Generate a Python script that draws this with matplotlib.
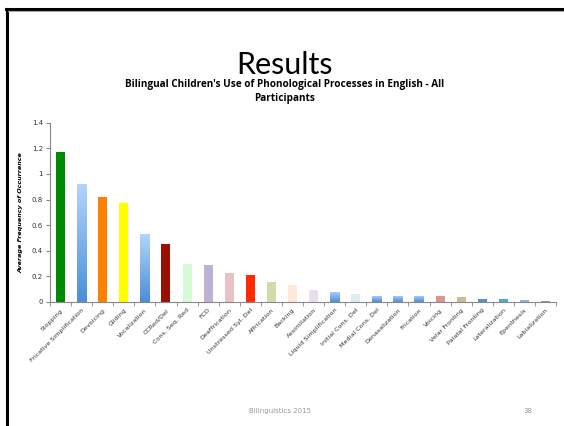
import matplotlib.pyplot as plt
import matplotlib.colors as mcolors
import numpy as np
from matplotlib.lines import Line2D

processes = ["Stopping", "Fricative Simplification", "Devoicing", "Gliding", "Vocalization",
             "CCRed/Del", "Cons. Seq. Red", "FCD", "Deaffrication", "Unstressed Syl. Del",
             "Affrication", "Backing", "Assimilation", "Liquid Simplification", "Initial Cons. Del",
             "Medial Cons. Del", "Denasalization", "Frication", "Voicing", "Velar Fronting",
             "Palatal Fronting", "Lateralization", "Epenthesis", "Labialization"]
frequency = [1.17, 0.92, 0.82, 0.77, 0.53, 0.45, 0.30, 0.29, 0.23, 0.21, 0.16, 0.13,
             0.09, 0.08, 0.06, 0.05, 0.05, 0.05, 0.045, 0.04, 0.02, 0.02, 0.012, 0.005]
# None -> blue gradient fill (like the office chart)
bar_colors = ["#008a00", None, "#ff7f00", "#ffff00", None, "#990f00", "#d6fbd6", "#bfb0d6",
              "#e8c3c3", "#ff2a00", "#d1dbab", "#fde9d9", "#e6e0ec", None, "#dcedf3",
              None, None, None, "#d99694", "#c4bd97", "#558ed5", "#4bacc6", "#8db3e2", "#8096b0"]

fig = plt.figure(figsize=(5.64, 4.26), dpi=100)
ax = fig.add_axes([50 / 564, 1 - 302 / 426, 506 / 564, 179.3 / 426])

x = np.arange(len(processes))
width = 0.43
grad = mcolors.LinearSegmentedColormap.from_list("bl", ["#4a8fd8", "#b3d3fb"])
bars = ax.bar(x, frequency, width=width, zorder=2)
for b, c in zip(bars, bar_colors):
    if c is None:
        b.set_facecolor("none")
        img = ax.imshow(np.linspace(0, 1, 50).reshape(-1, 1), cmap=grad, aspect="auto",
                        origin="lower", extent=[b.get_x(), b.get_x() + width, 0, b.get_height()],
                        zorder=2)
        img.set_clip_path(b)
    else:
        b.set_facecolor(c)

ax.set_xlim(-0.5, len(processes) - 0.5)
ax.set_ylim(0, 1.4)
ax.set_yticks(np.arange(0, 1.41, 0.2))
ax.set_yticklabels(["0", "0.2", "0.4", "0.6", "0.8", "1", "1.2", "1.4"])
ax.set_xticks(x)
ax.set_xticklabels(processes, rotation=45, ha="right", rotation_mode="anchor", fontsize=4.6,
                   color="#333333")
ax.set_xticks(np.arange(-0.5, len(processes)), minor=True)
ax.tick_params(axis="x", which="major", length=0, pad=4)
ax.tick_params(axis="x", which="minor", length=3, color="#888888", direction="out")
ax.tick_params(axis="y", length=3, color="#888888", labelsize=5, labelcolor="#333333", pad=2)
for s in ["top", "right"]:
    ax.spines[s].set_visible(False)
for s in ["left", "bottom"]:
    ax.spines[s].set_color("#888888")
    ax.spines[s].set_linewidth(0.8)
ax.set_ylabel("Average Frequency of Occurrence", fontsize=4.6, fontweight="bold",
              fontstyle="italic", labelpad=6)

fig.text(0.505, 1 - 65 / 426, "Results", ha="center", va="center", fontsize=22, family="Lato")
fig.text(0.505, 1 - 85 / 426, "Bilingual Children's Use of Phonological Processes in English - All",
         ha="center", va="center", fontsize=7.2, fontweight="bold", family="Open Sans")
fig.text(0.505, 1 - 98 / 426, "Participants", ha="center", va="center", fontsize=7.2,
         fontweight="bold", family="Open Sans")
fig.text(0.497, 1 - 411 / 426, "Bilinguistics 2015", ha="center", va="center", fontsize=5,
         color="#999999")
fig.text(528 / 564, 1 - 411 / 426, "38", ha="center", va="center", fontsize=5, color="#999999")

# slide frame
fig.add_artist(Line2D([7 / 564, 7 / 564], [0, 1 - 9 / 426], color="black", lw=2.2))
fig.add_artist(Line2D([6 / 564, 1], [1 - 9 / 426, 1 - 9 / 426], color="black", lw=2.2))
fig.add_artist(Line2D([8 / 564, 1], [1 - 11 / 426, 1 - 11 / 426], color="#aaaaaa", lw=0.8))

plt.savefig("out.png", dpi=100)
